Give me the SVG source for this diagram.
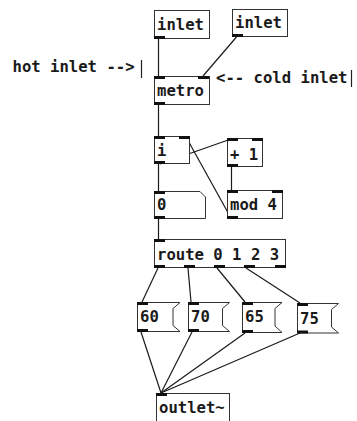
<svg xmlns="http://www.w3.org/2000/svg" width="357" height="421" viewBox="0 0 357 421">
<style>
.box{fill:#fff;stroke:#333;stroke-width:1}
.io{fill:#111}
.t{font-family:"DejaVu Sans Mono","Liberation Mono",monospace;font-weight:bold;font-size:15.6px;fill:#1a1a1a}
.w{stroke:#1a1a1a;stroke-width:1.2;fill:none}
.cur{stroke:#222;stroke-width:1.2}
</style>
<rect width="357" height="421" fill="#fff"/>
<g id="connectors">
<line class="w" x1="158.5" y1="39" x2="158.5" y2="76"/>
<line class="w" x1="236.5" y1="37" x2="203" y2="76"/>
<line class="w" x1="158.5" y1="105" x2="158.5" y2="136"/>
<line class="w" x1="160" y1="164" x2="231" y2="139"/>
<line class="w" x1="231.5" y1="167" x2="231.5" y2="190"/>
<line class="w" x1="231.5" y1="219" x2="185.5" y2="136"/>
<line class="w" x1="158.5" y1="164" x2="158.5" y2="191"/>
<line class="w" x1="158.5" y1="219" x2="158.5" y2="239"/>
<line class="w" x1="158" y1="268" x2="142" y2="302"/>
<line class="w" x1="188" y1="268" x2="191" y2="302"/>
<line class="w" x1="217" y1="268" x2="245" y2="302"/>
<line class="w" x1="246" y1="268" x2="300" y2="303"/>
<line class="w" x1="141" y1="332" x2="161" y2="393"/>
<line class="w" x1="192" y1="332" x2="161" y2="393"/>
<line class="w" x1="245" y1="333" x2="161" y2="393"/>
<line class="w" x1="300" y1="333" x2="161" y2="393"/>
</g>
<g id="comment-hot">
<text class="t" x="12.5" y="71.5">hot inlet --&gt;</text>
<line class="cur" x1="141.5" y1="60" x2="141.5" y2="78"/>
</g>
<g id="comment-cold">
<text class="t" x="216" y="83">&lt;-- cold inlet</text>
<line class="cur" x1="351.5" y1="70" x2="351.5" y2="87"/>
</g>
<g id="inlet1">
<rect class="box" x="154.5" y="10.5" width="55" height="28"/>
<rect class="io" x="154" y="36" width="11" height="3"/>
<text class="t" x="157" y="29.5">inlet</text>
</g>
<g id="inlet2">
<rect class="box" x="232.5" y="9.5" width="55" height="27"/>
<rect class="io" x="232" y="34" width="11" height="3"/>
<text class="t" x="235" y="28">inlet</text>
</g>
<g id="metro">
<rect class="box" x="154.5" y="76.5" width="55" height="28"/>
<rect class="io" x="154" y="76" width="11" height="3"/>
<rect class="io" x="198" y="76" width="11" height="3"/>
<rect class="io" x="154" y="102" width="11" height="3"/>
<text class="t" x="157" y="95.5">metro</text>
</g>
<g id="i">
<rect class="box" x="154.5" y="136.5" width="35" height="27"/>
<rect class="io" x="154" y="136" width="11" height="3"/>
<rect class="io" x="179" y="136" width="11" height="3"/>
<rect class="io" x="154" y="161" width="11" height="3"/>
<text class="t" x="157" y="156">i</text>
</g>
<g id="plus1">
<rect class="box" x="227.5" y="138.5" width="35" height="28"/>
<rect class="io" x="227" y="138" width="11" height="3"/>
<rect class="io" x="252" y="138" width="11" height="3"/>
<rect class="io" x="227" y="164" width="11" height="3"/>
<text class="t" x="230" y="159.5">+ 1</text>
</g>
<g id="mod4">
<rect class="box" x="227.5" y="190.5" width="55" height="28"/>
<rect class="io" x="227" y="190" width="11" height="3"/>
<rect class="io" x="272" y="190" width="11" height="3"/>
<rect class="io" x="227" y="216" width="11" height="3"/>
<text class="t" x="230" y="209.5">mod 4</text>
</g>
<g id="num0">
<path class="box" d="M154.5,191.5 H200 L205.5,197 V218.5 H154.5 Z"/>
<rect class="io" x="154" y="191" width="11" height="3"/>
<rect class="io" x="154" y="216" width="11" height="3"/>
<text class="t" x="157" y="209.5">0</text>
</g>
<g id="route">
<rect class="box" x="154.5" y="239.5" width="131" height="28"/>
<rect class="io" x="154" y="239" width="11" height="3"/>
<rect class="io" x="154" y="265" width="11" height="3"/>
<rect class="io" x="184" y="265" width="11" height="3"/>
<rect class="io" x="214" y="265" width="11" height="3"/>
<rect class="io" x="244" y="265" width="11" height="3"/>
<rect class="io" x="275" y="265" width="11" height="3"/>
<text class="t" x="157" y="259.5">route 0 1 2 3</text>
</g>
<g id="msg60">
<path class="box" d="M137.5,302.5 H180 L173,308.5 V325.5 L180,331.5 H137.5 Z"/>
<rect class="io" x="137" y="302" width="11" height="3"/>
<rect class="io" x="137" y="329" width="11" height="3"/>
<text class="t" x="140" y="322">60</text>
</g>
<g id="msg70">
<path class="box" d="M188.5,302.5 H229.5 L222.5,308.5 V325.5 L229.5,331.5 H188.5 Z"/>
<rect class="io" x="188" y="302" width="11" height="3"/>
<rect class="io" x="188" y="329" width="11" height="3"/>
<text class="t" x="191" y="322">70</text>
</g>
<g id="msg65">
<path class="box" d="M242.5,302.5 H282 L275,308.5 V326 L282,332.5 H242.5 Z"/>
<rect class="io" x="242" y="302" width="11" height="3"/>
<rect class="io" x="242" y="330" width="11" height="3"/>
<text class="t" x="245" y="322">65</text>
</g>
<g id="msg75">
<path class="box" d="M297.5,303.5 H338.5 L331.5,309.5 V327 L338.5,333 H297.5 Z"/>
<rect class="io" x="297" y="303" width="11" height="3"/>
<rect class="io" x="297" y="330.5" width="11" height="3"/>
<text class="t" x="300" y="323.5">75</text>
</g>
<g id="outlet">
<rect class="box" x="156.5" y="393.5" width="73" height="40"/>
<rect class="io" x="156" y="393" width="11" height="3"/>
<text class="t" x="159" y="413">outlet~</text>
</g>
</svg>
